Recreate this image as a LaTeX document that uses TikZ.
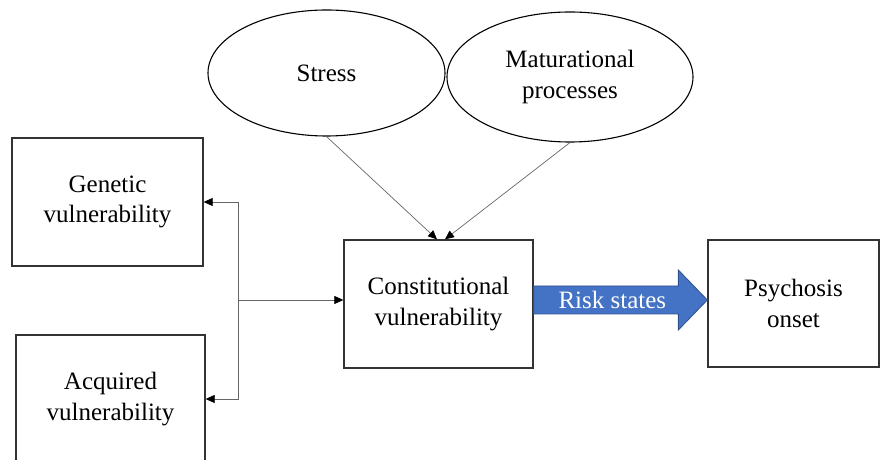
\documentclass[tikz,border=0pt]{standalone}
\usepackage{fontspec}
\setmainfont{Liberation Serif}
\usetikzlibrary{arrows.meta,shapes.geometric}
\definecolor{riskfill}{HTML}{4472C4}
\definecolor{riskline}{HTML}{2F528F}
\begin{document}
\begin{tikzpicture}[x=1pt, y=1pt,
    box node/.style={rectangle, draw=black!80, line width=1.3pt, inner sep=0pt, align=center, font=\fontsize{25}{30.5}\selectfont},
    oval node/.style={ellipse, draw=black, line width=1.1pt, inner sep=0pt, align=center, font=\fontsize{25}{30.5}\selectfont},
    link/.style={draw=black!60, line width=0.7pt, -{Triangle[length=9pt, width=8pt, color=black]}},
    risk arrow/.style={fill=riskfill, draw=riskline, line width=0.8pt, line join=miter}]
                \clip (0,0) rectangle (881,460);
                \node[oval node, minimum width=237, minimum height=126] at (326.5, 387) (stress) {Stress};
                \node[oval node, minimum width=246, minimum height=130] at (570, 383) (mat) {Maturational\\processes};
                \node[box node, minimum width=191, minimum height=128] at (107.5, 258) (gen) {Genetic\\vulnerability};
                \node[box node, minimum width=189, minimum height=128] at (110.5, 61) (acq) {Acquired\\vulnerability};
                \node[box node, minimum width=189, minimum height=128] at (438.5, 156) (con) {Constitutional\\vulnerability};
                \node[box node, minimum width=171, minimum height=127] at (793.5, 156.5) (psy) {Psychosis\\onset};

            % stress and maturation feed into the constitution
            \draw[link] (stress.south) -- ([xshift=-1.5]con.north);
            \draw[link] (mat.south) -- ([xshift=6.5]con.north);

            % genetic / acquired split
            \coordinate (jn) at (238, 160);
            \draw[link] (jn) |- (gen.east);
            \draw[link] (jn) |- (acq.east);
            \draw[link] (jn) -- (jn -| con.west);

            % risk states
            \coordinate (tip) at ([yshift=3.5]psy.west);
            \filldraw[risk arrow] (tip) -- ([xshift=-29, yshift=30]tip) -- ([xshift=-29, yshift=14]tip)
                -- ([yshift=14]tip -| con.east) -- ([yshift=-14]tip -| con.east)
                -- ([xshift=-29, yshift=-14]tip) -- ([xshift=-29, yshift=-30]tip) -- cycle;
            \node[text=white, font=\fontsize{25}{30.5}\selectfont] at ([xshift=-95]tip) (risk) {Risk states};

            \end{tikzpicture}
\end{document}
